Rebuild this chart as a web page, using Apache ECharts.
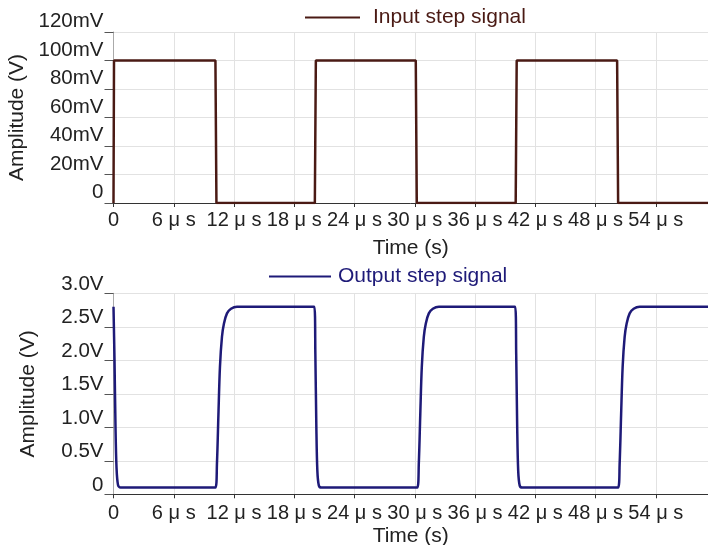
<!DOCTYPE html>
<html lang="en">
<head>
    <meta charset="UTF-8">
    <title>Step signals</title>
    <script src="https://cdn.jsdelivr.net/npm/echarts@6/dist/echarts.min.js"></script>
</head>
<body style="margin:0;">
<div id="main" style="width: 708px;height:545px;"></div>
<script type="text/javascript">
    // time in microseconds
    var inputTime  = [0, 0.05, 10.15, 10.25, 20.05, 20.15, 30.1, 30.2, 40.05, 40.15, 50.15, 50.25, 59.2];
    // amplitude in mV
    var inputValue = [0, 100, 100, 0, 0, 100, 100, 0, 0, 100, 100, 0, 0];

    var outputTime  = [0, 0.1, 0.2, 0.3, 0.45, 0.7,
                       10.15, 10.3, 10.45, 10.6, 10.8, 11.0, 11.3, 11.7, 12.3,
                       20.0, 20.1, 20.2, 20.3, 20.45, 20.7,
                       30.25, 30.4, 30.55, 30.7, 30.9, 31.1, 31.4, 31.8, 32.4,
                       40.0, 40.1, 40.2, 40.3, 40.45, 40.7,
                       50.25, 50.4, 50.55, 50.7, 50.9, 51.1, 51.4, 51.8, 52.4,
                       59.2];
    // amplitude in V
    var outputValue = [2.8, 2.0, 1.0, 0.4, 0.14, 0.1,
                       0.1, 0.45, 1.2, 1.9, 2.35, 2.55, 2.7, 2.77, 2.8,
                       2.8, 2.1, 1.0, 0.35, 0.13, 0.1,
                       0.1, 0.45, 1.2, 1.9, 2.35, 2.55, 2.7, 2.77, 2.8,
                       2.8, 2.1, 1.0, 0.35, 0.13, 0.1,
                       0.1, 0.45, 1.2, 1.9, 2.35, 2.55, 2.7, 2.77, 2.8,
                       2.8];

    var xTickStep = 6;
    var xMax = 59.2;

    function pairs(xs, ys) {
        return xs.map(function (x, i) { return [x, ys[i]]; });
    }

    var font = 'Liberation Sans, Arial, sans-serif';
    var textColor = '#222';

    function xAxisCfg(gridIndex) {
        return {
            type: 'value',
            gridIndex: gridIndex,
            min: 0,
            max: xMax,
            interval: xTickStep,
            name: 'Time (s)',
            nameLocation: 'middle',
            nameGap: gridIndex === 0 ? 35 : 31,
            nameTextStyle: {fontFamily: font, fontSize: 21, color: textColor},
            axisLine: {lineStyle: {color: '#333', width: 1}},
            axisTick: {show: true, length: 4, inside: false, lineStyle: {color: '#333'}},
            axisLabel: {
                showMaxLabel: false,
                margin: gridIndex === 0 ? 7 : 9,
                fontFamily: font, fontSize: 20, color: textColor,
                formatter: function (v) {
                    if (v === 0) return '0';
                    if (Math.abs(v % xTickStep) > 1e-6) return '';
                    return v + ' \u03bc s';
                }
            },
            splitLine: {show: true, lineStyle: {color: '#e2e2e2', width: 1}}
        };
    }

    function yAxisCfg(gridIndex, max, step, fmt, lh) {
        return {
            type: 'value',
            gridIndex: gridIndex,
            min: 0,
            max: max,
            interval: step,
            name: 'Amplitude (V)',
            nameLocation: 'middle',
            nameGap: gridIndex === 0 ? 81 : 75,
            nameTextStyle: {fontFamily: font, fontSize: 21, color: textColor},
            axisLine: {show: true, lineStyle: {color: '#aaa', width: 1}},
            axisTick: {show: true, length: 9, lineStyle: {color: '#555'}},
            axisLabel: {
                margin: 10,
                fontFamily: font, fontSize: 20.5, color: textColor,
                verticalAlign: 'bottom',
                lineHeight: lh,
                formatter: fmt
            },
            splitLine: {show: true, lineStyle: {color: '#e2e2e2', width: 1}}
        };
    }

    var myChart = echarts.init(document.getElementById('main'));
    myChart.setOption({
        animation: false,
        backgroundColor: '#fff',
        grid: [
            {left: 113.5, right: 0, top: 32, height: 171, outerBoundsMode: 'none'},
            {left: 113.5, right: 0, top: 293.3, height: 201, outerBoundsMode: 'none'}
        ],
        legend: [
            {
                data: ['Input step signal'],
                left: 300, top: 2,
                itemWidth: 55, itemHeight: 14,
                icon: 'path://M0,6L55,6L55,8L0,8Z',
                textStyle: {fontFamily: font, fontSize: 21, color: '#4a1a14', padding: [0, 0, 0, 8]}
            },
            {
                data: ['Output step signal'],
                left: 264, top: 261,
                itemWidth: 62, itemHeight: 14,
                icon: 'path://M0,6L62,6L62,8L0,8Z',
                textStyle: {fontFamily: font, fontSize: 21, color: '#1e1a78', padding: [0, 0, 0, 2]}
            }
        ],
        xAxis: [xAxisCfg(0), xAxisCfg(1)],
        yAxis: [
            yAxisCfg(0, 120, 20, function (v) { return v === 0 ? '0' : v + 'mV'; }, 21),
            yAxisCfg(1, 3, 0.5, function (v) { return v === 0 ? '0' : v.toFixed(1) + 'V'; }, 18)
        ],
        series: [
            {
                name: 'Input step signal',
                type: 'line',
                xAxisIndex: 0, yAxisIndex: 0,
                showSymbol: false,
                data: pairs(inputTime, inputValue),
                itemStyle: {color: '#4a1a14'},
                lineStyle: {color: '#4a1a14', width: 2.5}
            },
            {
                name: 'Output step signal',
                type: 'line',
                xAxisIndex: 1, yAxisIndex: 1,
                showSymbol: false,
                smooth: 0.3,
                data: pairs(outputTime, outputValue),
                itemStyle: {color: '#1e1a78'},
                lineStyle: {color: '#1e1a78', width: 2.5}
            }
        ]
    });
</script>
</body>
</html>
